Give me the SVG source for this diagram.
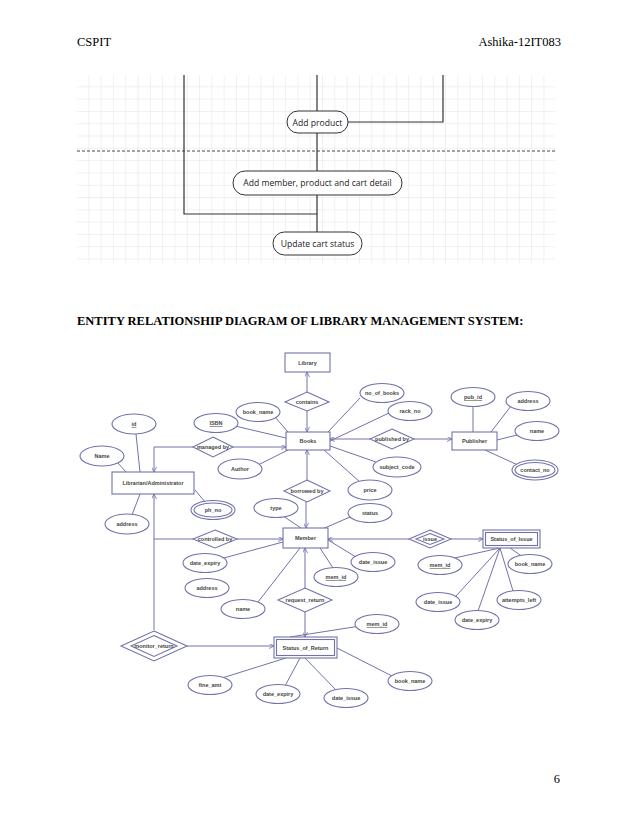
<svg xmlns="http://www.w3.org/2000/svg" width="638" height="826" viewBox="0 0 638 826">
<defs>
<pattern id="grid" x="77" y="75" width="12.3" height="12.3" patternUnits="userSpaceOnUse"><path d="M12.3 0V12.3M0 12.3H12.3" fill="none" stroke="#d8d8d8" stroke-width="0.7"/></pattern>
<marker id="ar" viewBox="0 0 6 6" refX="6" refY="3" markerWidth="5" markerHeight="5" orient="auto"><path d="M0 0L6 3L0 6" fill="none" stroke="#7070aa" stroke-width="1"/></marker>
</defs>
<style>
.pg{font-family:"Liberation Serif",serif;font-size:12.5px;fill:#000}
.fl{fill:#fff;stroke:#333;stroke-width:1}
.ft{font-family:"Open Sans","Liberation Sans",sans-serif;font-size:8.6px;fill:#222;text-anchor:middle}
.fc{stroke:#333;stroke-width:1.2;fill:none}
.e{fill:#fff;stroke:#7272aa;stroke-width:1.1}
.t{font-family:"Liberation Sans",sans-serif;font-size:5.5px;font-weight:bold;fill:#444;text-anchor:middle}
.c{stroke:#7272aa;stroke-width:1;fill:none}
</style>
<rect width="638" height="826" fill="#fff"/>
<text class="pg" x="77" y="46">CSPIT</text>
<text class="pg" x="561" y="46" text-anchor="end">Ashika-12IT083</text>
<text class="pg" x="77" y="325" font-weight="bold" font-size="11.5px">ENTITY RELATIONSHIP DIAGRAM OF LIBRARY MANAGEMENT SYSTEM:</text>
<text class="pg" x="560" y="783" text-anchor="end">6</text>

<g id="flow">
<rect x="77" y="75" width="478" height="188" fill="url(#grid)"/>
<line x1="77" y1="151" x2="555" y2="151" stroke="#333" stroke-dasharray="3,2" stroke-width="0.9"/>
<g class="fc"><path d="M184 75V214H317"/><path d="M317 75V111M317 133V171M317 195V232"/><path d="M443 75V122H348"/></g>
<g id="addproduct"><rect class="fl" x="287" y="111" width="61" height="22" rx="11"/><text class="ft" x="317.5" y="125.5">Add product</text></g>
<g id="addmember"><rect class="fl" x="233" y="171" width="169" height="24" rx="12"/><text class="ft" x="317.5" y="186">Add member, product and cart detail</text></g>
<g id="update"><rect class="fl" x="273" y="232" width="89" height="23" rx="11.5"/><text class="ft" x="317.5" y="246.5">Update cart status</text></g>
</g>

<g id="connectors">
<path class="c" d="M307 392V372" marker-end="url(#ar)"/>
<path class="c" d="M307 411V432" marker-end="url(#ar)"/>
<path class="c" d="M307 481V450" marker-end="url(#ar)"/>
<path class="c" d="M306 502V528" marker-end="url(#ar)"/>
<path class="c" d="M233 447H286" marker-end="url(#ar)"/>
<path class="c" d="M193 447H154V472" marker-end="url(#ar)"/>
<path class="c" d="M370 439H330" marker-end="url(#ar)"/>
<path class="c" d="M414 439H452" marker-end="url(#ar)"/>
<path class="c" d="M237 539H283" marker-end="url(#ar)"/>
<path class="c" d="M193 539H154"/>
<path class="c" d="M154 630V494" marker-end="url(#ar)"/>
<path class="c" d="M409 539H328" marker-end="url(#ar)"/>
<path class="c" d="M451 539H483" marker-end="url(#ar)"/>
<path class="c" d="M305 588V548" marker-end="url(#ar)"/>
<path class="c" d="M305 612V637" marker-end="url(#ar)"/>
<path class="c" d="M187 646H274" marker-end="url(#ar)"/>
<g class="c">
<path d="M275 417L288 432M235 426L286 438M258 465L288 450M360 398L328 432M389 413L330 441M330 446L376 462M324 450L360 482"/>
<path d="M473 406V432M511 406L491 432M517 435L497 440M520 466L485 450"/>
<path d="M136 434L140 472M117 462L126 472M195 490L206 503M140 494L132 515"/>
<path d="M283 516L301 528M350 517L320 530M220 559L283 542M258 602L300 548M320 548L333 568M328 540L356 557"/>
<path d="M500 548L450 559M500 548L456 596M500 548L478 611M500 548L513 591M510 548L523 557"/>
<path d="M290 637L360 626M222 678L286 658M300 658L285 686M305 658L335 689M337 648L392 676"/>
</g>
</g>

<g id="library"><rect class="e" x="285" y="353" width="45" height="19"/><text class="t" x="307.5" y="364.5">Library</text></g>
<g id="books"><rect class="e" x="286" y="432" width="44" height="18"/><text class="t" x="308" y="443">Books</text></g>
<g id="publisher"><rect class="e" x="452" y="432" width="45" height="18"/><text class="t" x="474.5" y="443">Publisher</text></g>
<g id="librarian"><rect class="e" x="112" y="472" width="82" height="22"/><text class="t" x="153" y="485">Librarian/Administrator</text></g>
<g id="member"><rect class="e" x="283" y="528" width="45" height="20"/><text class="t" x="305.5" y="540">Member</text></g>
<g id="statusissue"><rect class="e" x="483" y="530" width="57" height="18"/><rect class="e" x="485.5" y="532.5" width="52" height="13"/><text class="t" x="511.5" y="541">Status_of_Issue</text></g>
<g id="statusreturn"><rect class="e" x="274" y="637" width="63" height="21"/><rect class="e" x="276.5" y="639.5" width="58" height="16"/><text class="t" x="305.5" y="649.5">Status_of_Return</text></g>

<g id="contains"><path class="e" d="M307 392L329 402L307 411L285 402Z"/><text class="t" x="307" y="404">contains</text></g>
<g id="managedby"><path class="e" d="M213 437L233 447L213 457L193 447Z"/><text class="t" x="213" y="449">managed by</text></g>
<g id="publishedby"><path class="e" d="M392 429L414 439L392 449L370 439Z"/><text class="t" x="392" y="441">published by</text></g>
<g id="borrowedby"><path class="e" d="M307 480L330 491L307 502L284 491Z"/><text class="t" x="307" y="493">borrowed by</text></g>
<g id="controlledby"><path class="e" d="M215 530L237 539L215 548L193 539Z"/><text class="t" x="215" y="541">controlled by</text></g>
<g id="issue"><path class="e" d="M430 530L451 539L430 548L409 539Z"/><path class="e" d="M430 533.5L444 539L430 544.5L416 539Z"/><text class="t" x="430" y="541">issue</text></g>
<g id="requestreturn"><path class="e" d="M305 588L332 600L305 612L278 600Z"/><text class="t" x="305" y="602">request_return</text></g>
<g id="monitorreturn"><path class="e" d="M154 631L187 646L154 661L121 646Z"/><path class="e" d="M154 635.5L177 646L154 656.5L131 646Z"/><text class="t" x="154" y="648">monitor_return</text></g>

<g id="a-id"><ellipse class="e" cx="134" cy="424" rx="22" ry="10"/><text class="t" x="134" y="426" text-decoration="underline">id</text></g>
<g id="a-name"><ellipse class="e" cx="102" cy="456" rx="22" ry="10"/><text class="t" x="102" y="458">Name</text></g>
<g id="a-isbn"><ellipse class="e" cx="216" cy="423" rx="22" ry="9.5"/><text class="t" x="216" y="425" text-decoration="underline">ISBN</text></g>
<g id="a-bookname"><ellipse class="e" cx="258" cy="412" rx="22" ry="9.5"/><text class="t" x="258" y="414">book_name</text></g>
<g id="a-author"><ellipse class="e" cx="240" cy="469" rx="22" ry="10"/><text class="t" x="240" y="471">Author</text></g>
<g id="a-phno"><ellipse class="e" cx="213" cy="510" rx="22" ry="9.5"/><ellipse class="e" cx="213" cy="510" rx="19" ry="7"/><text class="t" x="213" y="512">ph_no</text></g>
<g id="a-address1"><ellipse class="e" cx="127" cy="524" rx="22" ry="10"/><text class="t" x="127" y="526">address</text></g>
<g id="a-noofbooks"><ellipse class="e" cx="382" cy="393" rx="22" ry="9.5"/><text class="t" x="382" y="395">no_of_books</text></g>
<g id="a-rackno"><ellipse class="e" cx="410" cy="411" rx="22" ry="9.5"/><text class="t" x="410" y="413">rack_no</text></g>
<g id="a-subject"><ellipse class="e" cx="397" cy="467" rx="24" ry="10"/><text class="t" x="397" y="469">subject_code</text></g>
<g id="a-price"><ellipse class="e" cx="370" cy="490" rx="22" ry="10"/><text class="t" x="370" y="492">price</text></g>
<g id="a-pubid"><ellipse class="e" cx="473" cy="397" rx="22" ry="9.5"/><text class="t" x="473" y="399" text-decoration="underline">pub_id</text></g>
<g id="a-pubaddr"><ellipse class="e" cx="528" cy="401" rx="22" ry="9.5"/><text class="t" x="528" y="403">address</text></g>
<g id="a-pubname"><ellipse class="e" cx="537" cy="431" rx="22" ry="9.5"/><text class="t" x="537" y="433">name</text></g>
<g id="a-contact"><ellipse class="e" cx="535" cy="470" rx="23" ry="10"/><ellipse class="e" cx="535" cy="470" rx="20" ry="7.5"/><text class="t" x="535" y="472">contact_no</text></g>
<g id="a-type"><ellipse class="e" cx="276" cy="508" rx="22" ry="9.5"/><text class="t" x="276" y="510">type</text></g>
<g id="a-status"><ellipse class="e" cx="370" cy="513" rx="22" ry="9.5"/><text class="t" x="370" y="515">status</text></g>
<g id="a-mdateexp"><ellipse class="e" cx="205" cy="563" rx="22" ry="9.5"/><text class="t" x="205" y="565">date_expiry</text></g>
<g id="a-maddr"><ellipse class="e" cx="207" cy="588" rx="22" ry="9.5"/><text class="t" x="207" y="590">address</text></g>
<g id="a-mname"><ellipse class="e" cx="243" cy="609" rx="22" ry="9.5"/><text class="t" x="243" y="611">name</text></g>
<g id="a-mmemid"><ellipse class="e" cx="336" cy="577" rx="22" ry="9.5"/><text class="t" x="336" y="579" text-decoration="underline">mem_id</text></g>
<g id="a-mdateissue"><ellipse class="e" cx="373" cy="562" rx="22" ry="9.5"/><text class="t" x="373" y="564">date_issue</text></g>
<g id="a-imemid"><ellipse class="e" cx="440" cy="565" rx="22" ry="9.5"/><text class="t" x="440" y="567" text-decoration="underline">mem_id</text></g>
<g id="a-ibookname"><ellipse class="e" cx="530" cy="564" rx="22" ry="9.5"/><text class="t" x="530" y="566">book_name</text></g>
<g id="a-idateissue"><ellipse class="e" cx="438" cy="602" rx="22" ry="9.5"/><text class="t" x="438" y="604">date_issue</text></g>
<g id="a-attempts"><ellipse class="e" cx="519" cy="600" rx="22" ry="9.5"/><text class="t" x="519" y="602">attempts_left</text></g>
<g id="a-idateexp"><ellipse class="e" cx="477" cy="620" rx="22" ry="9.5"/><text class="t" x="477" y="622">date_expiry</text></g>
<g id="a-rmemid"><ellipse class="e" cx="377" cy="624" rx="22" ry="9.5"/><text class="t" x="377" y="626" text-decoration="underline">mem_id</text></g>
<g id="a-rbookname"><ellipse class="e" cx="410" cy="681" rx="22" ry="9.5"/><text class="t" x="410" y="683">book_name</text></g>
<g id="a-fine"><ellipse class="e" cx="210" cy="685" rx="22" ry="9.5"/><text class="t" x="210" y="687">fine_amt</text></g>
<g id="a-rdateexp"><ellipse class="e" cx="278" cy="694" rx="22" ry="9.5"/><text class="t" x="278" y="696">date_expiry</text></g>
<g id="a-rdateissue"><ellipse class="e" cx="346" cy="698" rx="22" ry="9.5"/><text class="t" x="346" y="700">date_issue</text></g>
</svg>
